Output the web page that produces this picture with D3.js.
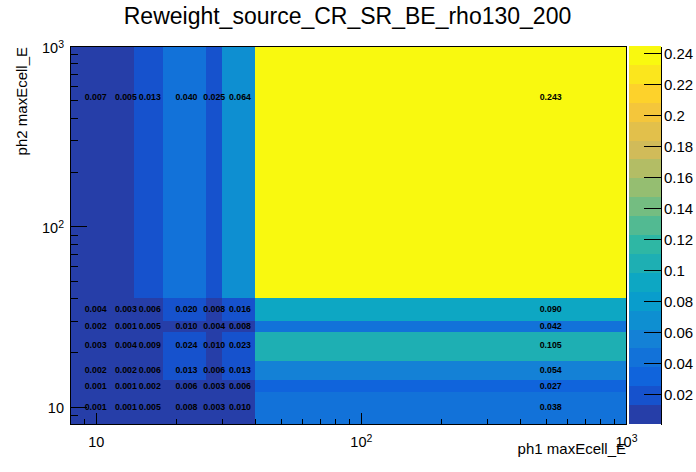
<!DOCTYPE html>
<html><head><meta charset="utf-8">
<script src="https://cdn.jsdelivr.net/npm/d3@7"></script>
<style>
body{margin:0;background:#fff}
svg{display:block}
text{font-family:"Liberation Sans",Arial,Helvetica,sans-serif}
</style>
</head><body><svg id="c" width="696" height="472"></svg>
<script>
// ---------------- data ----------------
const title = "Reweight_source_CR_SR_BE_rho130_200";
const xTitle = "ph1 maxEcell_E";
const yTitle = "ph2 maxEcell_E";
const xEdges = [8, 12, 14, 18, 26, 30, 40, 1000];
const yEdges = [8, 12, 14, 18, 26, 30, 40, 1000];
// bin contents, one array per y-bin (bottom to top), columns follow xEdges
const row8_12    = [0.001, 0.001, 0.005, 0.008, 0.003, 0.010, 0.038];
const row12_14   = [0.001, 0.001, 0.002, 0.006, 0.003, 0.006, 0.027];
const row14_18   = [0.002, 0.002, 0.006, 0.0132, 0.006, 0.0132, 0.054];
const row18_26   = [0.003, 0.004, 0.009, 0.024, 0.010, 0.023, 0.105];
const row26_30   = [0.002, 0.001, 0.005, 0.010, 0.004, 0.008, 0.042];
const row30_40   = [0.004, 0.003, 0.006, 0.020, 0.008, 0.016, 0.090];
const row40_1000 = [0.007, 0.005, 0.0132, 0.040, 0.0246, 0.064, 0.243];
const rows = [row8_12, row12_14, row14_18, row18_26, row26_30, row30_40, row40_1000];
const majorTicks = [10, 100, 1000];
const minorTicks = [9, 20, 30, 40, 50, 60, 70, 80, 90, 200, 300, 400, 500, 600, 700, 800, 900];
const zTicks = [0.02, 0.04, 0.06, 0.08, 0.10, 0.12, 0.14, 0.16, 0.18, 0.20, 0.22, 0.24];
const zRange = [0.0008, 0.2447];
const nContours = 20;
// ROOT kBird palette
const birdStops = [0.0000, 0.1250, 0.2500, 0.3750, 0.5000, 0.6250, 0.7500, 0.8750, 1.0000];
const birdRed   = [0.2082, 0.0592, 0.0780, 0.0232, 0.1802, 0.5301, 0.8186, 0.9956, 0.9764];
const birdGreen = [0.1664, 0.3599, 0.5041, 0.6419, 0.7178, 0.7492, 0.7328, 0.7862, 0.9832];
const birdBlue  = [0.5293, 0.8684, 0.8385, 0.7914, 0.6425, 0.4662, 0.3499, 0.1968, 0.0539];

// ---------------- palette ----------------
const NCOL = 255;
const palette = [];
for (let g = 1; g < birdStops.length; g++) {
  const n = Math.floor(NCOL * birdStops[g]) - Math.floor(NCOL * birdStops[g - 1]);
  for (let c = 0; c < n; c++) {
    const r = birdRed[g-1] + c * (birdRed[g] - birdRed[g-1]) / n;
    const gg = birdGreen[g-1] + c * (birdGreen[g] - birdGreen[g-1]) / n;
    const b = birdBlue[g-1] + c * (birdBlue[g] - birdBlue[g-1]) / n;
    palette.push(d3.rgb(r * 255, gg * 255, b * 255).formatHex());
  }
}
const levelColor = i => palette[Math.min(NCOL - 1, Math.floor((i + 0.99) * NCOL / nContours))];
const zLevel = z => Math.max(0, Math.min(nContours - 1,
  Math.floor(0.01 + (z - zRange[0]) * nContours / (zRange[1] - zRange[0]))));

// ---------------- layout ----------------
const svg = d3.select("#c");
const L = 70, R = 626, T = 46, B = 424;
const PX0 = 629, PX1 = 661;
const FONT = '"Liberation Sans",Arial,Helvetica,sans-serif';

const x = d3.scaleLog().domain([xEdges[0], xEdges[xEdges.length-1]]).range([L, R]);
const y = d3.scaleLog().domain([yEdges[0], yEdges[yEdges.length-1]]).range([B, T]);
const z = d3.scaleLinear().domain(zRange).range([B, T]);

// cells
const cells = [];
rows.forEach((row, i) => row.forEach((v, j) => cells.push({i, j, v})));
svg.append("g").selectAll("rect").data(cells).join("rect")
  .attr("x", d => x(xEdges[d.j]))
  .attr("y", d => y(yEdges[d.i + 1]))
  .attr("width", d => x(xEdges[d.j + 1]) - x(xEdges[d.j]))
  .attr("height", d => y(yEdges[d.i]) - y(yEdges[d.i + 1]))
  .attr("fill", d => levelColor(zLevel(d.v)))
  .attr("shape-rendering", "crispEdges");

// cell texts at (linear) bin centers
svg.append("g").selectAll("text").data(cells).join("text")
  .attr("x", d => x((xEdges[d.j] + xEdges[d.j + 1]) / 2))
  .attr("y", d => y((yEdges[d.i] + yEdges[d.i + 1]) / 2))
  .attr("text-anchor", "middle")
  .attr("dy", "0.36em")
  .attr("font-size", "8.8px")
  .attr("font-weight", "bold")
  .attr("fill", "#000")
  .text(d => d.v.toFixed(3));

// frame
svg.append("rect").attr("x", L).attr("y", T).attr("width", R - L).attr("height", B - T)
  .attr("fill", "none").attr("stroke", "#000").attr("stroke-width", 1)
  .attr("shape-rendering", "crispEdges");

function supLabels(g, anchor) {
  g.selectAll(".tick text").each(function(d) {
    const t = d3.select(this);
    const e = Math.round(Math.log10(d));
    t.text("").attr("text-anchor", anchor);
    t.append("tspan").text("10");
    if (e !== 1) t.append("tspan").attr("dy", "-0.42em").attr("font-size", "10.5px").text(e);
  });
}

// x axis
const gxMinor = svg.append("g").attr("transform", `translate(0,${B})`)
  .call(d3.axisBottom(x).tickValues(minorTicks).tickSize(-5.5).tickSizeOuter(0).tickFormat(""));
const gxMajor = svg.append("g").attr("transform", `translate(0,${B})`)
  .call(d3.axisBottom(x).tickValues(majorTicks).tickSize(-11).tickSizeOuter(0).tickPadding(12.5));
[gxMinor, gxMajor].forEach(g => { g.select(".domain").remove(); g.selectAll("line").attr("stroke", "#000").attr("shape-rendering", "crispEdges"); });
gxMajor.selectAll("text").attr("font-family", FONT).attr("font-size", "14.5px").attr("fill", "#000");
supLabels(gxMajor, "middle");

// y axis
const gyMinor = svg.append("g").attr("transform", `translate(${L},0)`)
  .call(d3.axisLeft(y).tickValues(minorTicks).tickSize(-8.4).tickSizeOuter(0).tickFormat(""));
const gyMajor = svg.append("g").attr("transform", `translate(${L},0)`)
  .call(d3.axisLeft(y).tickValues(majorTicks).tickSize(-16.7).tickSizeOuter(0).tickPadding(6));
[gyMinor, gyMajor].forEach(g => { g.select(".domain").remove(); g.selectAll("line").attr("stroke", "#000").attr("shape-rendering", "crispEdges"); });
gyMajor.selectAll("text").attr("font-family", FONT).attr("font-size", "14.5px").attr("fill", "#000").attr("dy", "0.42em");
supLabels(gyMajor, "end");

// color palette
const bands = d3.range(nContours);
const dz = (zRange[1] - zRange[0]) / nContours;
svg.append("g").selectAll("rect").data(bands).join("rect")
  .attr("x", PX0).attr("width", PX1 - PX0)
  .attr("y", i => z(zRange[0] + (i + 1) * dz))
  .attr("height", i => z(zRange[0] + i * dz) - z(zRange[0] + (i + 1) * dz))
  .attr("fill", i => levelColor(i))
  .attr("shape-rendering", "crispEdges");
const gz = svg.append("g").attr("transform", `translate(${PX1},0)`)
  .call(d3.axisRight(z).tickValues(zTicks).tickSize(-17).tickSizeOuter(0).tickPadding(3)
    .tickFormat(v => String(+v.toFixed(2))));
gz.selectAll("line, path").attr("stroke", "#000").attr("shape-rendering", "crispEdges");
gz.selectAll("text").attr("font-family", FONT).attr("font-size", "15px").attr("fill", "#000");

// titles
svg.append("text").attr("x", 347.5).attr("y", 24).attr("text-anchor", "middle")
  .attr("font-size", "23px").attr("fill", "#000").text(title);
svg.append("text").attr("x", R).attr("y", 454).attr("text-anchor", "end")
  .attr("font-size", "15px").attr("fill", "#000").text(xTitle);
svg.append("text").attr("transform", `translate(27,${T + 1}) rotate(-90)`).attr("text-anchor", "end")
  .attr("font-size", "15px").attr("fill", "#000").text(yTitle);
</script>
</body></html>
